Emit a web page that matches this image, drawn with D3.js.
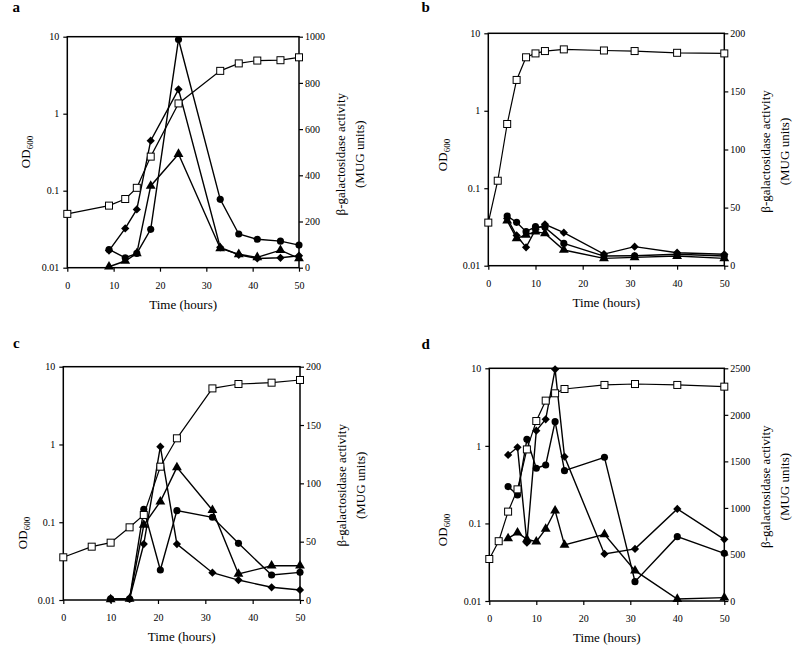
<!DOCTYPE html>
<html><head><meta charset="utf-8">
<script src="https://cdn.jsdelivr.net/npm/d3@7"></script>
<style>
body{margin:0;background:#fff}
svg text{font-family:"Liberation Serif","Times New Roman",serif;}
</style>
</head><body>
<svg id="chart" width="800" height="652"></svg>
<script>
// ---------- shared tick labels ----------
const timeTicks = [0, 10, 20, 30, 40, 50];
const odTicks = [0.01, 0.1, 1, 10];
const odTickLabels = ["0.01", "0.1", "1", "10"];

// ---------- panel a ----------
const aTimeOD = [0, 9, 12.5, 15, 18, 24, 33, 37, 41, 46, 50];
const aOD = [0.05, 0.064, 0.078, 0.109, 0.277, 1.36, 3.6, 4.5, 4.9, 4.95, 5.4];
const aTimeGal = [9, 12.5, 15, 18, 24, 33, 37, 41, 46, 50];
const aCircle = [79, 43, 62, 166, 988, 296, 146, 123, 115, 98];
const aDiamond = [74, 170, 252, 550, 772, 88, 56, 40, 43, 52];
const aTriangle = [4, 29, 62, 354, 492, 84, 58, 45, 76, 40];
const aGalTicks = [0, 200, 400, 600, 800, 1000];

// ---------- panel b ----------
const bTimeOD = [0, 2, 4, 6, 8, 10, 12, 16, 24.5, 31, 40, 50];
const bOD = [0.036, 0.125, 0.675, 2.5, 4.9, 5.5, 5.9, 6.2, 6.0, 5.9, 5.6, 5.5];
const bTimeGal = [4, 6, 8, 10, 12, 16, 24.5, 31, 40, 50];
const bCircle = [42.8, 37.3, 29.3, 33.6, 33, 19.2, 8.3, 8.6, 9.8, 8.3];
const bDiamond = [40.7, 26, 15.8, 31, 35.6, 28.4, 10, 16.4, 11.2, 9.8];
const bTriangle = [38.7, 23.5, 26.4, 29.3, 27.8, 13.5, 6.3, 7.2, 8.3, 6.3];
const bGalTicks = [0, 50, 100, 150, 200];

// ---------- panel c ----------
const cTimeOD = [0, 6, 10, 14, 17, 20.5, 24, 31.5, 37, 44, 50];
const cOD = [0.0354, 0.0485, 0.0546, 0.086, 0.124, 0.518, 1.2, 5.26, 5.99, 6.23, 6.75];
const cTimeGal = [10, 14, 17, 20.5, 24, 31.5, 37, 44, 50];
const cCircle = [1, 1, 77.7, 25.7, 76.6, 70.9, 48.6, 21.4, 23.7];
const cDiamond = [1, 1, 48, 131.4, 48, 23.4, 17.1, 10.9, 8.6];
const cTriangle = [0.5, 1, 64.3, 84.3, 113.7, 77, 22.3, 29.4, 29.4];
const cGalTicks = [0, 50, 100, 150, 200];

// ---------- panel d ----------
const dTimeOD = [0, 2, 4, 6, 8, 10, 12, 14, 16, 24.5, 31, 40, 50];
const dOD = [0.0348, 0.059, 0.142, 0.275, 0.90, 2.09, 3.83, 4.76, 5.41, 6.1, 6.27, 6.1, 5.8];
const dTimeGal = [4, 6, 8, 10, 12, 14, 16, 24.5, 31, 40, 50];
const dCircle = [1229, 1139, 1737, 1426, 1461, 1927, 1400, 1544, 208, 691, 512];
const dDiamond = [1569, 1651, 627, 1830, 1952, 2489, 1551, 505, 560, 989, 663];
const dTriangle = [673, 734, 663, 638, 774, 971, 602, 716, 326, 21, 36];
const dGalTicks = [0, 500, 1000, 1500, 2000, 2500];

const svg = d3.select('#chart');

const panels = [
  {letter:'a', lx:12.5, ly:12, L:67.3, R:299, T:36.7, B:267.7, odX:25, odY:152,
   tOD:aTimeOD, od:aOD, tG:aTimeGal, circle:aCircle, diamond:aDiamond, triangle:aTriangle, gTicks:aGalTicks},
  {letter:'b', lx:421.5, ly:12, L:488.3, R:724.3, T:33.3, B:265.7, odX:442, odY:155,
   tOD:bTimeOD, od:bOD, tG:bTimeGal, circle:bCircle, diamond:bDiamond, triangle:bTriangle, gTicks:bGalTicks},
  {letter:'c', lx:13, ly:348, L:63.3, R:300, T:366.7, B:600, odX:22, odY:533,
   tOD:cTimeOD, od:cOD, tG:cTimeGal, circle:cCircle, diamond:cDiamond, triangle:cTriangle, gTicks:cGalTicks},
  {letter:'d', lx:421.5, ly:349, L:489.3, R:724.3, T:368.3, B:601, odX:442, odY:530,
   tOD:dTimeOD, od:dOD, tG:dTimeGal, circle:dCircle, diamond:dDiamond, triangle:dTriangle, gTicks:dGalTicks}
];

function styleAxis(g){
  g.select('.domain').remove();
  g.selectAll('.tick line').attr('stroke','#000').attr('stroke-width',1.2);
  g.selectAll('.tick text').attr('fill','#000').attr('font-family', null).style('font-size','10px');
}

panels.forEach(p => {
  const g = svg.append('g');
  const x = d3.scaleLinear().domain([0, 50]).range([p.L, p.R]);
  const yL = d3.scaleLog().domain([0.01, 10]).range([p.B, p.T]);
  const gMax = p.gTicks[p.gTicks.length - 1];
  const yR = d3.scaleLinear().domain([0, gMax]).range([p.B, p.T]);

  // axes
  const ax1 = g.append('g').attr('transform', `translate(0,${p.B})`)
    .call(d3.axisBottom(x).tickValues(timeTicks).tickSize(4).tickPadding(10).tickFormat(d3.format('d')));
  const ax2 = g.append('g').attr('transform', `translate(${p.L},0)`)
    .call(d3.axisLeft(yL).tickValues(odTicks).tickSize(4).tickPadding(4).tickFormat((d,i) => odTickLabels[i]));
  const ax3 = g.append('g').attr('transform', `translate(${p.R},0)`)
    .call(d3.axisRight(yR).tickValues(p.gTicks).tickSize(4).tickPadding(2).tickFormat(d3.format('d')));
  [ax1, ax2, ax3].forEach(a => { a.attr('font-family', null); styleAxis(a); });

  // frame
  g.append('rect').attr('x', p.L).attr('y', p.T).attr('width', p.R - p.L).attr('height', p.B - p.T)
    .attr('fill', 'none').attr('stroke', '#000').attr('stroke-width', 1.5);

  // lines
  const odPts = p.tOD.map((t, i) => [t, p.od[i]]);
  const lineOD = d3.line().x(d => x(d[0])).y(d => yL(d[1]));
  const lineG = d3.line().x(d => x(d[0])).y(d => yR(d[1]));
  const series = [
    {vals: p.circle, sym: d3.symbolCircle, size: 40, rot: 0},
    {vals: p.diamond, sym: d3.symbolSquare, size: 34, rot: 45},
    {vals: p.triangle, sym: d3.symbolTriangle, size: 42, rot: 0}
  ];
  series.forEach(s => {
    const pts = p.tG.map((t, i) => [t, s.vals[i]]);
    g.append('path').datum(pts).attr('d', lineG).attr('fill', 'none')
      .attr('stroke', '#000').attr('stroke-width', 1.4);
  });
  g.append('path').datum(odPts).attr('d', lineOD).attr('fill', 'none')
    .attr('stroke', '#000').attr('stroke-width', 1.2);

  series.forEach(s => {
    const pts = p.tG.map((t, i) => [t, s.vals[i]]);
    g.selectAll(null).data(pts).enter().append('path')
      .attr('d', d3.symbol().type(s.sym).size(s.size))
      .attr('transform', d => `translate(${x(d[0])},${yR(d[1])}) rotate(${s.rot})`)
      .attr('fill', '#000');
  });
  g.selectAll(null).data(odPts).enter().append('rect')
    .attr('x', d => x(d[0]) - 3.5).attr('y', d => yL(d[1]) - 3.5)
    .attr('width', 7).attr('height', 7)
    .attr('fill', '#fff').attr('stroke', '#000').attr('stroke-width', 1);

  // titles
  g.append('text').attr('x', p.lx).attr('y', p.ly).text(p.letter)
    .style('font-weight', 'bold').style('font-size', '15px');
  g.append('text').attr('x', (p.L + p.R) / 2).attr('y', p.B + 41).attr('text-anchor', 'middle')
    .style('font-size', '13px').text('Time (hours)');
  const od = g.append('text').attr('transform', `translate(${p.odX},${p.odY}) rotate(-90)`)
    .attr('text-anchor', 'middle').attr('dy', '0.35em').style('font-size', '13px');
  od.append('tspan').text('OD');
  od.append('tspan').attr('dy', 3).style('font-size', '9px').text('600');
  const cy = (p.T + p.B) / 2 + 2;
  g.append('text').attr('transform', `translate(${p.R + 41},${cy}) rotate(-90)`)
    .attr('text-anchor', 'middle').attr('dy', '0.35em')
    .style('font-size', '13px').text('β-galactosidase activity');
  g.append('text').attr('transform', `translate(${p.R + 60},${cy}) rotate(-90)`)
    .attr('text-anchor', 'middle').attr('dy', '0.35em')
    .style('font-size', '13px').text('(MUG units)');
});
</script>
</body></html>
